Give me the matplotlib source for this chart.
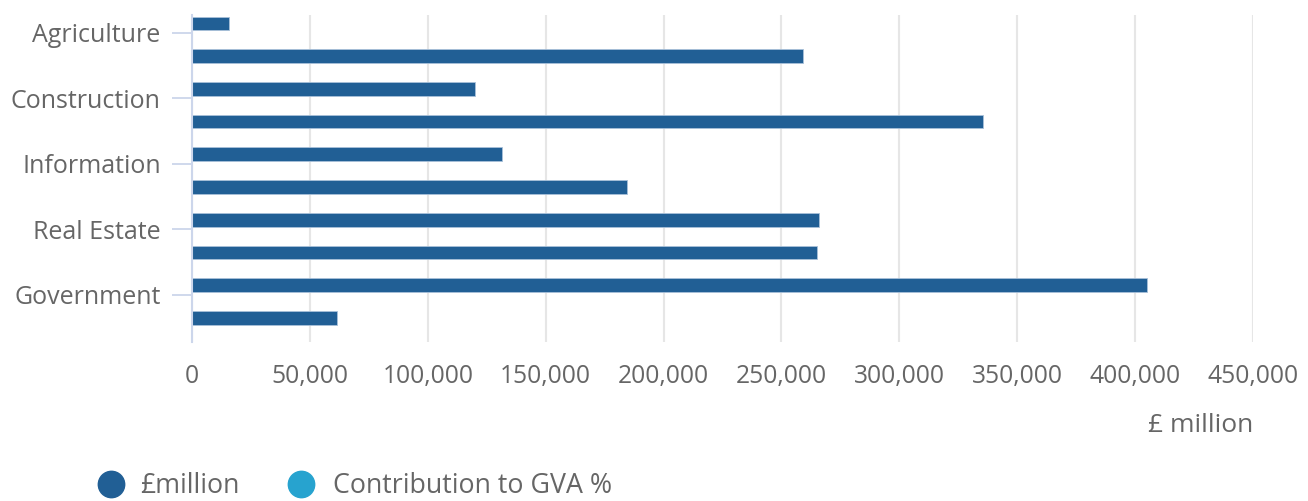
import matplotlib
matplotlib.use("Agg")
import matplotlib.pyplot as plt
from matplotlib.lines import Line2D
import numpy as np

# data (GVA by industry)
categories = ["Agriculture", "Production", "Construction", "Distribution",
              "Information", "Finance", "Real Estate", "Professional",
              "Government", "Other"]
gva_million = [15700, 259000, 119900, 335500, 131400,
               184500, 265900, 264900, 404900, 61600]
gva_share = [0.8, 12.7, 5.9, 16.5, 6.4, 9.1, 13.0, 13.0, 19.9, 3.0]
series_names = ["£million", "Contribution to GVA %"]
series_colors = ["#215f95", "#27a3cf"]
xticks = np.arange(0, 450001, 50000)

plt.rcParams['font.family'] = ['Open Sans', 'DejaVu Sans']
txt = "#666666"

fig = plt.figure(figsize=(13.08, 5.01), dpi=100)
ax = fig.add_axes([192 / 1308, 1 - 342 / 501, 1061 / 1308, 327 / 501])

y = np.arange(len(categories))
h = 0.42
ax.barh(y - 0.29, gva_million, height=h, color=series_colors[0],
        edgecolor="#a9c1d9", linewidth=0.6, zorder=3)
ax.barh(y + 0.29, gva_share, height=h, color=series_colors[1],
        linewidth=0, zorder=3)

ax.set_xlim(0, 450000)
ax.set_ylim(len(categories) - 0.55, -0.55)
ax.set_xticks(xticks)
ax.set_xticklabels([f"{v:,}" for v in xticks])
ax.set_yticks(y[::2])
ax.set_yticklabels(categories[::2])

ax.grid(axis="x", color="#e6e6e6", linewidth=1.5, zorder=0)
for s in ["top", "right", "bottom"]:
    ax.spines[s].set_visible(False)
ax.spines["left"].set_color("#ccd6eb")
ax.spines["left"].set_linewidth(1.5)
ax.spines["left"].set_zorder(4)

ax.tick_params(axis="x", length=0, pad=16, labelsize=17.7, labelcolor=txt)
ax.tick_params(axis="y", length=14.5, width=1.3, color="#ccd6eb", pad=8,
               labelsize=18, labelcolor=txt)

fig.text(1253 / 1308, 1 - 425 / 501, "£ million", ha="right", va="center",
         fontsize=19, color=txt)

# legend drawn by hand at the bottom
leg_x = [110.5, 301]
txt_x = [140, 333]
for i, name in enumerate(series_names):
    fig.add_artist(Line2D([leg_x[i] / 1308], [1 - 484 / 501], marker="o",
                          markersize=19, color=series_colors[i], linestyle="",
                          transform=fig.transFigure))
    fig.text(txt_x[i] / 1308, 1 - 486 / 501, name, ha="left", va="center",
             fontsize=19.3, color=txt)

fig.savefig("out.png", dpi=100)
